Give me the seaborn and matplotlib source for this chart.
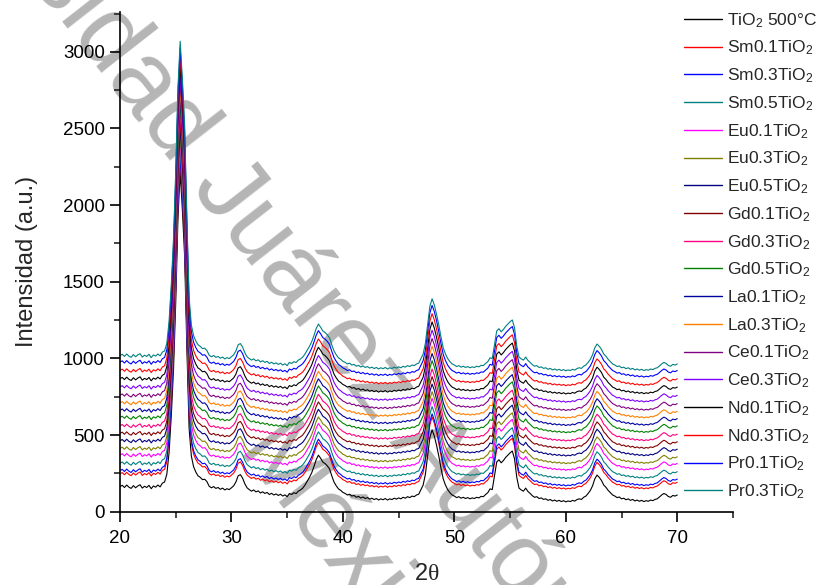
import numpy as np
import pandas as pd
import matplotlib
matplotlib.use("Agg")
import matplotlib.pyplot as plt
from matplotlib.ticker import MultipleLocator
from matplotlib.lines import Line2D
import seaborn as sns

# ---------------- data ----------------
samples = ["TiO$_2$ 500°C", "Sm0.1TiO$_2$", "Sm0.3TiO$_2$", "Sm0.5TiO$_2$",
           "Eu0.1TiO$_2$", "Eu0.3TiO$_2$", "Eu0.5TiO$_2$", "Gd0.1TiO$_2$",
           "Gd0.3TiO$_2$", "Gd0.5TiO$_2$", "La0.1TiO$_2$", "La0.3TiO$_2$",
           "Ce0.1TiO$_2$", "Ce0.3TiO$_2$", "Nd0.1TiO$_2$", "Nd0.3TiO$_2$",
           "Pr0.1TiO$_2$", "Pr0.3TiO$_2$"]
colors = ["#000000", "#FF0000", "#0000FF", "#008080", "#FF00FF", "#808000",
          "#000080", "#800000", "#FF0080", "#008000", "#0000A0", "#FF8000",
          "#800080", "#8000FF", "#000000", "#FF0000", "#0000FF", "#008080"]
# stacking offset of each pattern (intensity at 2theta = 20)
offsets = [164, 247, 268, 316, 370, 413, 463, 511, 561, 615, 662, 710,
           760, 814, 868, 922, 976, 1019]

# 2theta scan: 20.0 .. 70.0 in 0.2 deg steps
theta_start, theta_step = 20.0, 0.2
# diffraction profile relative to the value at 20 deg (5 points per degree)
profile = [
    0, 8, -6, 10, -4,            # 20
    -12, 6, -8, 4, 12,           # 21
    -10, 2, -6, 8, -14,          # 22
    4, -4, 10, -2, 22,           # 23
    30, 80, 220, 460, 760,       # 24
    1200, 1750, 2050, 1800, 1500,  # 25
    900, 380, 200, 130, 95,      # 26
    70, 60, 45, 48, 32,          # 27
    2, -8, 0, -12, -6,           # 28
    -18, -10, -22, -14, -20,     # 29
    -8, 5, 30, 70, 78,           # 30
    55, 18, -8, -20, -30,        # 31
    -22, -35, -28, -42, -34,     # 32
    -45, -38, -52, -44, -55,     # 33
    -48, -58, -50, -62, -54,     # 34
    -66, -45, -52, -40, -46,     # 35
    -30, -22, -10, 10, 35,       # 36
    60, 90, 130, 175, 205,       # 37
    185, 160, 150, 135, 115,     # 38
    70, 30, 5, -15, -25,         # 39
    -38, -45, -55, -50, -62,     # 40
    -58, -70, -64, -75, -68,     # 41
    -78, -72, -82, -76, -85,     # 42
    -78, -88, -80, -86, -78,     # 43
    -88, -80, -85, -76, -82,     # 44
    -74, -80, -70, -76, -66,     # 45
    -72, -62, -66, -55, -50,     # 46
    -20, 10, 80, 200, 320,       # 47
    370, 330, 270, 200, 120,     # 48
    50, 10, -20, -40, -55,       # 49
    -62, -72, -66, -76, -70,     # 50
    -78, -72, -80, -74, -78,     # 51
    -70, -74, -64, -66, -52,     # 52
    -40, -15, -20, 70, 160,      # 53
    175, 155, 170, 190, 205,     # 54
    220, 232, 180, 60, -10,      # 55
    -22, -30, -10, -32, -45,     # 56
    -60, -70, -66, -78, -74,     # 57
    -84, -80, -90, -84, -94,     # 58
    -88, -96, -90, -98, -92,     # 59
    -100, -94, -98, -90, -95,    # 60
    -85, -80, -84, -70, -62,     # 61
    -45, -25, 5, 50, 75,         # 62
    60, 40, 10, -5, -25,         # 63
    -40, -55, -62, -72, -68,     # 64
    -80, -76, -86, -80, -90,     # 65
    -84, -94, -88, -96, -90,     # 66
    -98, -92, -96, -88, -92,     # 67
    -84, -80, -68, -55, -45,     # 68
    -52, -65, -70, -58, -62,     # 69
    -55,                         # 70
]

x_ticks = [20, 30, 40, 50, 60, 70]
y_ticks = [0, 500, 1000, 1500, 2000, 2500, 3000]

# ---------------- build table ----------------
two_theta = theta_start + theta_step * np.arange(len(profile))
prof = np.array(profile, dtype=float)
frames = []
for s, off in zip(samples, offsets):
    frames.append(pd.DataFrame({"2theta": two_theta,
                                "I": off + prof,
                                "sample": s}))
df = pd.concat(frames, ignore_index=True)

# ---------------- style ----------------
sns.set_style("ticks")
plt.rcParams["font.family"] = ["Liberation Sans", "DejaVu Sans"]
plt.rcParams["mathtext.fontset"] = "custom"
plt.rcParams["mathtext.rm"] = "Liberation Sans"
plt.rcParams["mathtext.it"] = "Liberation Sans:italic"
plt.rcParams["mathtext.sf"] = "Liberation Serif"

fig = plt.figure(figsize=(8.16, 5.85), dpi=100)

# watermark (behind everything)
wm_kw = dict(transform=fig.dpi_scale_trans, rotation=-52, rotation_mode="anchor",
             ha="left", va="baseline", fontsize=72, color="#b5b5b5", zorder=-5)
fig.text(-152.7 / 100, (585 + 250.2) / 100, "Universidad Juárez Autónoma de Tabasco", **wm_kw)
fig.text(234 / 100, (585 - 455) / 100, "México", **wm_kw)

ax = fig.add_axes([120 / 816, 1 - 511.7 / 585, (733 - 120) / 816, (511.7 - 11.7) / 585])
ax.set_facecolor("none")

palette = dict(zip(samples, colors))
sns.lineplot(data=df, x="2theta", y="I", hue="sample", hue_order=samples,
             palette=palette, estimator=None, sort=False, linewidth=0.8,
             ax=ax, legend=False)

ax.set_xlim(20, 75)
ax.set_ylim(0, 3262)
ax.set_xticks(x_ticks)
ax.set_yticks(y_ticks)
ax.xaxis.set_minor_locator(MultipleLocator(5))
ax.yaxis.set_minor_locator(MultipleLocator(250))
for sp in ["top", "right"]:
    ax.spines[sp].set_visible(False)
for sp in ["left", "bottom"]:
    ax.spines[sp].set_linewidth(1.2)
    ax.spines[sp].set_color("black")
ax.tick_params(axis="both", which="major", direction="out", length=7.5, width=1.2,
               labelsize=13.5, colors="black")
ax.tick_params(axis="x", which="major", pad=5.5)
ax.tick_params(axis="y", which="major", pad=3.5)
ax.tick_params(axis="both", which="minor", direction="out", length=4, width=1.2)

ax.set_xlabel(r"2$\mathsf{\theta}$", fontsize=17, labelpad=12)
ax.set_ylabel("Intensidad (a.u.)", fontsize=17, labelpad=18)

handles = [Line2D([], [], color=c, lw=1.0) for c in colors]
leg = fig.legend(handles, samples, loc="upper left",
                 bbox_to_anchor=(684 / 816, 1 - 11 / 585),
                 bbox_transform=fig.transFigure, frameon=False,
                 fontsize=12.5, handlelength=2.2, handletextpad=0.3,
                 labelspacing=0.52, borderpad=0, borderaxespad=0)

fig.savefig("out.png", dpi=100)
